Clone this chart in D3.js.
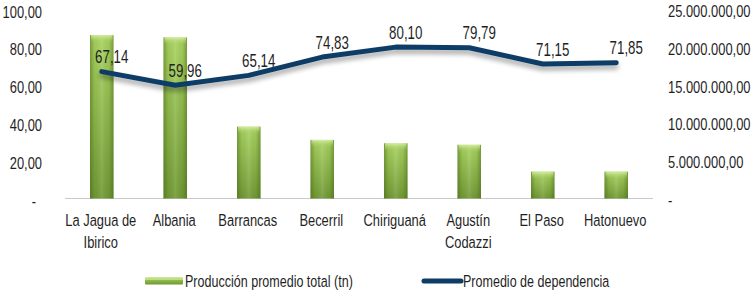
<!DOCTYPE html>
<html>
<head>
<meta charset="utf-8">
<script src="https://cdn.jsdelivr.net/npm/d3@7"></script>
<style>
  html, body { margin: 0; padding: 0; background: #fff; }
  svg { display: block; }
  text { font-family: "Liberation Sans", Arial, sans-serif; fill: #1f1f1f; }
</style>
</head>
<body>
<svg id="chart" width="752" height="298"></svg>
<script>
const categories = ["La Jagua de Ibirico", "Albania", "Barrancas", "Becerril", "Chiriguaná", "Agustín Codazzi", "El Paso", "Hatonuevo"];
const production = [21600000, 21300000, 9500000, 7750000, 7300000, 7100000, 3550000, 3550000];
const dependence = [67.14, 59.96, 65.14, 74.83, 80.10, 79.79, 71.15, 71.85];
const leftTicks = [0, 20, 40, 60, 80, 100];
const rightTicks = [0, 5000000, 10000000, 15000000, 20000000, 25000000];
const legendLabels = ["Producción promedio total (tn)", "Promedio de dependencia"];

const W = 752, H = 298;
const SX = 0.76; // condensed look
const plot = { left: 65, right: 653, top: 9.5, bottom: 198.5 };
const svg = d3.select("#chart");

const x = d3.scaleBand().domain(categories).range([plot.left, plot.right]).paddingInner(0.68).paddingOuter(0.34);
const yL = d3.scaleLinear().domain([0, 100]).range([plot.bottom, plot.top]);
const yR = d3.scaleLinear().domain([0, 25000000]).range([plot.bottom, plot.top]);

const fmt = v => v === 0 ? "-" : d3.format(",.2f")(v).replace(/,/g, "#").replace(".", ",").replace(/#/g, ".");

function place(sel, xf, yf) {
  sel.attr("transform", (d, i) => `translate(${xf(d, i)},${yf(d, i)}) scale(${SX},1)`);
  return sel;
}

// defs
const defs = svg.append("defs");
const gv = defs.append("linearGradient").attr("id", "barV").attr("x1", 0).attr("y1", 0).attr("x2", 0).attr("y2", 1);
gv.append("stop").attr("offset", "0%").attr("stop-color", "#a8d260");
gv.append("stop").attr("offset", "100%").attr("stop-color", "#6f9733");
const gh = defs.append("linearGradient").attr("id", "barH").attr("x1", 0).attr("y1", 0).attr("x2", 1).attr("y2", 0);
gh.append("stop").attr("offset", "0%").attr("stop-color", "#3d5a14").attr("stop-opacity", 0.45);
gh.append("stop").attr("offset", "20%").attr("stop-color", "#3d5a14").attr("stop-opacity", 0.05);
gh.append("stop").attr("offset", "50%").attr("stop-color", "#ffffff").attr("stop-opacity", 0.12);
gh.append("stop").attr("offset", "80%").attr("stop-color", "#3d5a14").attr("stop-opacity", 0.05);
gh.append("stop").attr("offset", "100%").attr("stop-color", "#3d5a14").attr("stop-opacity", 0.45);
const gt = defs.append("linearGradient").attr("id", "barTop").attr("x1", 0).attr("y1", 0).attr("x2", 0).attr("y2", 1);
gt.append("stop").attr("offset", "0%").attr("stop-color", "#d8f0a8").attr("stop-opacity", 0.9);
gt.append("stop").attr("offset", "100%").attr("stop-color", "#a6d15e").attr("stop-opacity", 0);
const sh = defs.append("filter").attr("id", "shadow").attr("x", "-10%").attr("y", "-50%").attr("width", "120%").attr("height", "250%");
sh.append("feGaussianBlur").attr("in", "SourceAlpha").attr("stdDeviation", 2.5).attr("result", "b");
sh.append("feOffset").attr("in", "b").attr("dx", 0).attr("dy", 4).attr("result", "o");
sh.append("feComponentTransfer").attr("in", "o").attr("result", "o2")
  .append("feFuncA").attr("type", "linear").attr("slope", 0.35);
const mg = sh.append("feMerge");
mg.append("feMergeNode").attr("in", "o2");
mg.append("feMergeNode").attr("in", "SourceGraphic");

// baseline
svg.append("line").attr("x1", plot.left).attr("x2", plot.right)
  .attr("y1", plot.bottom).attr("y2", plot.bottom)
  .attr("stroke", "#c8c8c8").attr("stroke-width", 1.2);

// left axis labels
place(svg.append("g").selectAll("text").data(leftTicks).join("text")
  .attr("text-anchor", "end")
  .attr("font-size", 17)
  .text(fmt), d => d === 0 ? 36 : 42, d => yL(d) + 8);

// right axis labels
place(svg.append("g").selectAll("text").data(rightTicks).join("text")
  .attr("text-anchor", "start")
  .attr("font-size", 17)
  .text(fmt), d => 668, d => yR(d) + 7.5);

// bars
const bars = svg.append("g").selectAll("g").data(categories).join("g");
bars.append("rect")
  .attr("x", d => x(d)).attr("width", x.bandwidth())
  .attr("y", (d, i) => yR(production[i]))
  .attr("height", (d, i) => plot.bottom - yR(production[i]))
  .attr("fill", "url(#barV)");
bars.append("rect")
  .attr("x", d => x(d)).attr("width", x.bandwidth())
  .attr("y", (d, i) => yR(production[i]))
  .attr("height", (d, i) => plot.bottom - yR(production[i]))
  .attr("fill", "url(#barH)");
bars.append("rect")
  .attr("x", d => x(d) + 1).attr("width", x.bandwidth() - 2)
  .attr("y", (d, i) => yR(production[i]))
  .attr("height", 7)
  .attr("fill", "url(#barTop)");

// category labels
function wrapLines(text, maxW) {
  const words = text.split(" ");
  const lines = [];
  let cur = "";
  const approx = s => s.length * 6.3;
  words.forEach(w => {
    const t = cur ? cur + " " + w : w;
    if (approx(t) > maxW && cur) { lines.push(cur); cur = w; } else cur = t;
  });
  if (cur) lines.push(cur);
  return lines;
}
const cl = place(svg.append("g").selectAll("text").data(categories).join("text")
  .attr("text-anchor", "middle")
  .attr("font-size", 17), d => x(d) + x.bandwidth() / 2 - 1, d => 225.5);
cl.each(function(d) {
  const lines = wrapLines(d, 75);
  d3.select(this).selectAll("tspan").data(lines).join("tspan")
    .attr("x", 0)
    .attr("y", (l, j) => j * 22.5)
    .text(l => l);
});

// line
const cx = d => x(d) + x.bandwidth() / 2;
const line = d3.line().x((d, i) => cx(categories[i])).y(d => yL(d)).curve(d3.curveLinear);
svg.append("path").datum(dependence)
  .attr("d", line)
  .attr("fill", "none")
  .attr("stroke", "#0d3c66")
  .attr("stroke-width", 5)
  .attr("stroke-linejoin", "round")
  .attr("stroke-linecap", "round")
  .attr("filter", "url(#shadow)");

// line labels
place(svg.append("g").selectAll("text").data(dependence).join("text")
  .attr("text-anchor", "middle")
  .attr("font-size", 17.5)
  .text(d => d.toFixed(2).replace(".", ",")), (d, i) => cx(categories[i]) + 10, d => yL(d) - 8.5);

// legend
const lg = svg.append("g");
lg.append("rect").attr("x", 145).attr("y", 277.5).attr("width", 38).attr("height", 7)
  .attr("fill", "url(#barV)").attr("rx", 1);
lg.append("rect").attr("x", 145).attr("y", 277.5).attr("width", 38).attr("height", 2.5)
  .attr("fill", "#c4e58c").attr("opacity", 0.8);
place(lg.append("text").datum(legendLabels[0]).attr("font-size", 16.5).text(d => d), () => 185, () => 287);
lg.append("line").attr("x1", 424).attr("x2", 461).attr("y1", 281).attr("y2", 281)
  .attr("stroke", "#0d3c66").attr("stroke-width", 5).attr("stroke-linecap", "round");
place(lg.append("text").datum(legendLabels[1]).attr("font-size", 16.5).text(d => d), () => 463, () => 287);
</script>
</body>
</html>
